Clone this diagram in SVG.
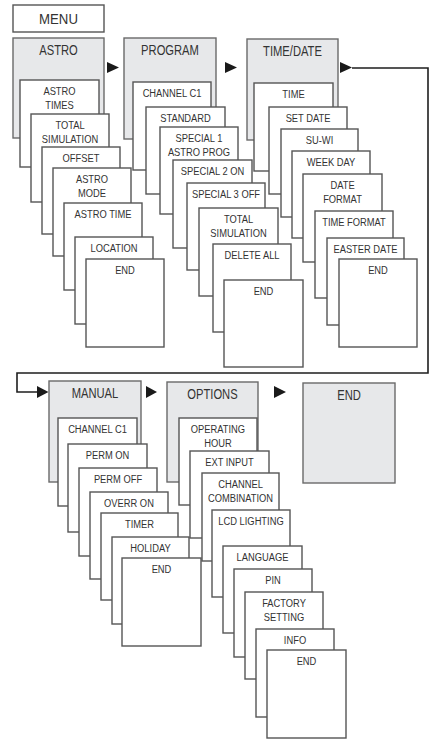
<svg xmlns="http://www.w3.org/2000/svg" width="434" height="743" viewBox="0 0 434 743">
<style>
text{font-family:"Liberation Sans",Arial,sans-serif;fill:#333;text-anchor:middle;transform-box:fill-box;transform-origin:center;transform:scaleX(0.85)}
.h rect{fill:#e7e8ea;stroke:#6a6a6a;stroke-width:1.4}
.h text{font-size:14px;transform:scaleX(0.8)}
.b rect{fill:#fff;stroke:#555;stroke-width:1.4}
.b text{font-size:11px}
.menu rect{fill:#fff;stroke:#555;stroke-width:1.4}
.menu text{font-size:15px;transform:scaleX(0.88)}
.line{fill:none;stroke:#1e1e1e;stroke-width:1.6}
.arr{fill:#1a1a1a}
</style>
<rect width="434" height="743" fill="#fff"/>
<g id="menu" class="menu"><rect x="13" y="5" width="91" height="27"/><text x="58.5" y="24">MENU</text></g>

<g id="connectors">
<polygon class="arr" points="107,62 119,67.5 107,73"/>
<polygon class="arr" points="225,62 237,67.5 225,73"/>
<polygon class="arr" points="340,62 352,67.5 340,73"/>
<path class="line" d="M352,68 H428 V373 H17 V392 H37"/>
<polygon class="arr" points="37,386 48.5,392 37,398"/>
<polygon class="arr" points="146,386 157,392 146,398"/>
<polygon class="arr" points="274,386 286,392 274,398"/>
</g>

<g id="astro">
<g class="h"><rect x="13" y="38" width="91" height="100"/><text x="58.5" y="55">ASTRO</text></g>
<g class="b"><rect x="20" y="80" width="79" height="87"/><text x="59.5" y="95">ASTRO</text><text x="59.5" y="109">TIMES</text></g>
<g class="b"><rect x="31" y="114" width="78" height="88"/><text x="70" y="129">TOTAL</text><text x="70" y="143">SIMULATION</text></g>
<g class="b"><rect x="42" y="147" width="78" height="87"/><text x="81" y="162">OFFSET</text></g>
<g class="b"><rect x="53" y="168" width="78" height="88"/><text x="92" y="183">ASTRO</text><text x="92" y="197">MODE</text></g>
<g class="b"><rect x="64" y="203" width="78" height="87"/><text x="103" y="218">ASTRO TIME</text></g>
<g class="b"><rect x="75" y="237" width="78" height="87"/><text x="114" y="252">LOCATION</text></g>
<g class="b"><rect x="86" y="259" width="78" height="88"/><text x="125" y="274">END</text></g>
</g>

<g id="program">
<g class="h"><rect x="124" y="38" width="92" height="101"/><text x="170" y="55">PROGRAM</text></g>
<g class="b"><rect x="133" y="82" width="78" height="88"/><text x="172" y="97">CHANNEL C1</text></g>
<g class="b"><rect x="146" y="107" width="79" height="87"/><text x="185.5" y="122">STANDARD</text></g>
<g class="b"><rect x="160" y="127" width="78" height="87"/><text x="199" y="142">SPECIAL 1</text><text x="199" y="156">ASTRO PROG</text></g>
<g class="b"><rect x="173" y="160" width="79" height="88"/><text x="212.5" y="175">SPECIAL 2 ON</text></g>
<g class="b"><rect x="187" y="183" width="78" height="87"/><text x="226" y="198">SPECIAL 3 OFF</text></g>
<g class="b"><rect x="199" y="208" width="79" height="88"/><text x="238.5" y="223">TOTAL</text><text x="238.5" y="237">SIMULATION</text></g>
<g class="b"><rect x="213" y="244" width="78" height="88"/><text x="252" y="259">DELETE ALL</text></g>
<g class="b"><rect x="224" y="280" width="79" height="87"/><text x="263.5" y="295">END</text></g>
</g>

<g id="timedate">
<g class="h"><rect x="247" y="39" width="91" height="101"/><text x="292.5" y="56">TIME/DATE</text></g>
<g class="b"><rect x="254" y="83" width="79" height="88"/><text x="293.5" y="98">TIME</text></g>
<g class="b"><rect x="269" y="107" width="78" height="87"/><text x="308" y="122">SET DATE</text></g>
<g class="b"><rect x="281" y="129" width="77" height="88"/><text x="319.5" y="144">SU-WI</text></g>
<g class="b"><rect x="292" y="151" width="78" height="87"/><text x="331" y="166">WEEK DAY</text></g>
<g class="b"><rect x="303" y="174" width="79" height="88"/><text x="342.5" y="189">DATE</text><text x="342.5" y="203">FORMAT</text></g>
<g class="b"><rect x="315" y="211" width="78" height="87"/><text x="354" y="226">TIME FORMAT</text></g>
<g class="b"><rect x="327" y="238" width="77" height="87"/><text x="365.5" y="253">EASTER DATE</text></g>
<g class="b"><rect x="339" y="259" width="78" height="88"/><text x="378" y="274">END</text></g>
</g>

<g id="manual">
<g class="h"><rect x="49" y="381" width="92" height="101"/><text x="95" y="398">MANUAL</text></g>
<g class="b"><rect x="58" y="418" width="79" height="88"/><text x="97.5" y="433">CHANNEL C1</text></g>
<g class="b"><rect x="68" y="444" width="79" height="88"/><text x="107.5" y="459">PERM ON</text></g>
<g class="b"><rect x="79" y="468" width="78" height="88"/><text x="118" y="483">PERM OFF</text></g>
<g class="b"><rect x="90" y="492" width="78" height="87"/><text x="129" y="507">OVERR ON</text></g>
<g class="b"><rect x="101" y="513" width="77" height="87"/><text x="139.5" y="528">TIMER</text></g>
<g class="b"><rect x="112" y="537" width="77" height="87"/><text x="150.5" y="552">HOLIDAY</text></g>
<g class="b"><rect x="122" y="558" width="79" height="88"/><text x="161.5" y="573">END</text></g>
</g>

<g id="options">
<g class="h"><rect x="167" y="382" width="91" height="100"/><text x="212.5" y="399">OPTIONS</text></g>
<g class="b"><rect x="179" y="418" width="78" height="87"/><text x="218" y="433">OPERATING</text><text x="218" y="447">HOUR</text></g>
<g class="b"><rect x="190" y="451" width="79" height="87"/><text x="229.5" y="466">EXT INPUT</text></g>
<g class="b"><rect x="202" y="473" width="77" height="88"/><text x="240.5" y="488">CHANNEL</text><text x="240.5" y="502">COMBINATION</text></g>
<g class="b"><rect x="212" y="510" width="78" height="87"/><text x="251" y="525">LCD LIGHTING</text></g>
<g class="b"><rect x="223" y="546" width="79" height="87"/><text x="262.5" y="561">LANGUAGE</text></g>
<g class="b"><rect x="234" y="569" width="78" height="88"/><text x="273" y="584">PIN</text></g>
<g class="b"><rect x="245" y="592" width="78" height="87"/><text x="284" y="607">FACTORY</text><text x="284" y="621">SETTING</text></g>
<g class="b"><rect x="256" y="629" width="78" height="88"/><text x="295" y="644">INFO</text></g>
<g class="b"><rect x="267" y="650" width="79" height="88"/><text x="306.5" y="665">END</text></g>
</g>

<g id="end">
<g class="h"><rect x="303" y="383" width="92" height="100"/><text x="349" y="400">END</text></g>
</g>
</svg>
